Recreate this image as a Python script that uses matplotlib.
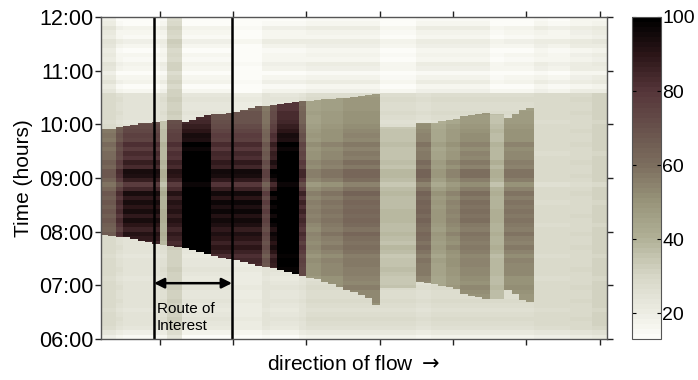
import numpy as np
import matplotlib
matplotlib.use('Agg')
from matplotlib import pyplot as plt
from matplotlib.colors import LinearSegmentedColormap

plt.rcParams['font.family'] = ['Liberation Sans', 'DejaVu Sans']

# ---- data ----
# 69 road segments (columns), time 06:00-12:00
hour_ticks = [6, 7, 8, 9, 10, 11, 12]
hour_labels = ['06:00', '07:00', '08:00', '09:00', '10:00', '11:00', '12:00']
seg_ticks = [8, 18, 28, 38, 48, 58, 68]

# groups of segments: (count, peak level in jam, free-flow level, level after 10:35)
groups = [
    (2, 66, 28, 22),
    (1, 80, 26, 17),
    (5, 90, 24, 16),
    (1, 40, 26, 18),
    (2, 88, 32, 30),
    (4, 112, 23, 16),
    (3, 92, 23, 16),
    (4, 92, 21, 13),
    (1, 74, 24, 17),
    (1, 96, 23, 17),
    (3, 112, 23, 17),
    (1, 82, 25, 17),
    (2, 54, 27, 18),
    (3, 57, 27, 18),
    (5, 61, 27, 18),
    (5, 37, 27, 15),
    (2, 62, 26, 18),
    (2, 48, 27, 18),
    (2, 53, 27, 18),
    (4, 58, 27, 18),
    (2, 40, 27, 15),
    (4, 57, 27, 16),
    (2, 28, 28, 18),
    (3, 28, 28, 17),
    (3, 28, 29, 19),
    (2, 30, 31, 20),
]

# jam onset (bottom edge) and clearance (top edge) per segment, hours
onset = [7.94, 7.92, 7.90, 7.90, 7.87, 7.84, 7.80, 7.77, 7.75, 7.73,
         7.71, 7.70, 7.66, 7.62, 7.58, 7.55, 7.52, 7.49, 7.46, 7.43,
         7.40, 7.37, 7.34, 7.31, 7.28, 7.25, 7.21, 7.17, 7.14, 7.11,
         7.07, 7.04, 6.97, 6.91, 6.86, 6.82, 6.76, 6.63, 6.95, 6.95,
         6.95, 6.95, 6.95, 7.07, 7.05, 7.02, 6.99, 6.96, 6.93, 6.84,
         6.80, 6.78, 6.75, 6.75, 6.75, 6.91, 6.83, 6.74, 6.68, np.nan,
         np.nan, np.nan, np.nan, np.nan, np.nan, np.nan, np.nan, np.nan, np.nan]
clear = [9.92, 9.92, 9.95, 9.97, 9.99, 10.01, 10.03, 10.05, 10.06, 10.08,
         10.09, 10.05, 10.09, 10.13, 10.17, 10.18, 10.20, 10.22, 10.24, 10.27,
         10.30, 10.33, 10.35, 10.37, 10.39, 10.40, 10.41, 10.43, 10.44, 10.45,
         10.46, 10.47, 10.48, 10.49, 10.51, 10.53, 10.55, 10.57, 9.95, 9.95,
         9.95, 9.95, 9.95, 10.02, 10.03, 10.04, 10.06, 10.08, 10.10, 10.15,
         10.17, 10.19, 10.22, 10.20, 10.20, 10.12, 10.20, 10.26, 10.30, np.nan,
         np.nan, np.nan, np.nan, np.nan, np.nan, np.nan, np.nan, np.nan, np.nan]

# jam intensity through the morning, 5-minute steps from 06:00
pulse = [0.70, 0.70, 0.70, 0.70, 0.70, 0.70, 0.70, 0.70, 0.72, 0.75,
         0.78, 0.80, 0.77, 0.82, 0.85, 0.83, 0.88, 0.90, 0.86, 0.92,
         0.95, 0.91, 0.97, 1.00, 0.94, 1.02, 1.05, 0.97, 1.06, 1.00,
         1.08, 0.97, 1.04, 0.92, 0.85, 0.95, 1.02, 1.05, 0.90, 0.94,
         0.86, 0.90, 0.82, 0.86, 0.78, 0.80, 0.74, 0.72, 0.70, 0.68,
         0.66, 0.65, 0.64, 0.63, 0.62, 0.60, 0.60, 0.60, 0.60, 0.60,
         0.60, 0.60, 0.60, 0.60, 0.60, 0.60, 0.60, 0.60, 0.60, 0.60,
         0.60, 0.60]
# faint background banding, 5-minute steps from 06:00
haze = [-9, -5, -1, 0, 1, 0, -1, 0, 1, 0,
        0, 1, 0, -1, 0, 1, 0, 0, -1, 0,
        1, 0, 0, 1, 0, -1, 0, 1, 0, 0,
        -1, 0, 1, 0, -2, 0, 1, 0, 0, 1,
        0, -1, 0, 1, 0, 0, 1, 0, -1, 0,
        1, 0, 0, 1, 0, 1, -2, 2, 0, -3,
        1, 2, -1, 0, -2, 1, 3, -1, 0, 2,
        -2, -3]
shift_time = 10.58   # background steps lighter after this time

route = [7.23, 17.86]

# colours along the scale
cmap_pts = [(13, '#fcfcf8'), (20, '#ececE2'), (30, '#d6d6c6'), (40, '#b0b096'),
            (50, '#98947a'), (60, '#7c6e5e'), (70, '#68524c'), (80, '#56363a'),
            (90, '#2c1618'), (100, '#000000')]
vmin, vmax = 13, 100


def build_matrix():
    counts = [g[0] for g in groups]
    peak = np.repeat([g[1] for g in groups], counts)
    free = np.repeat([g[2] for g in groups], counts)
    late = np.repeat([g[3] for g in groups], counts)
    t_edges = np.linspace(6, 12, 361)
    t_mid = (t_edges[:-1] + t_edges[1:]) / 2
    k = np.minimum((t_mid - 6) * 12, 71).astype(int)
    p = np.array(pulse)[k][:, None]
    h = np.array(haze)[k][:, None]
    T = t_mid[:, None]
    on = np.array(onset)[None, :]
    off = np.array(clear)[None, :]
    z = np.where(T < shift_time, free[None, :], late[None, :]).astype(float)
    jam = (T >= on) & (T < off)
    z = np.where(jam, free[None, :] + (peak - free)[None, :] * p, z)
    z = z + h
    return t_edges, np.clip(z, vmin, vmax)


def main():
    vals = [(v - vmin) / (vmax - vmin) for v, _ in cmap_pts]
    cmap = LinearSegmentedColormap.from_list('jam', list(zip(vals, [c for _, c in cmap_pts])), N=64)

    t_edges, z = build_matrix()
    x_edges = np.arange(len(onset) + 1)

    fig = plt.figure(figsize=(6.98, 3.80), dpi=100)
    ax = fig.add_axes([0.1447, 0.1079, 0.7249, 0.8474])
    cax = fig.add_axes([0.9054, 0.1079, 0.0415, 0.8474])

    mesh = ax.pcolormesh(x_edges, t_edges, z, cmap=cmap, vmin=vmin, vmax=vmax,
                         shading='flat', rasterized=True)
    ax.set_xlim(0, len(onset))
    ax.set_ylim(6, 12)
    ax.set_yticks(hour_ticks)
    ax.set_yticklabels(hour_labels)
    ax.set_xticks(seg_ticks)
    ax.set_xticklabels([])
    ax.tick_params(direction='out', length=4, width=1, top=True, right=True,
                   labelsize=15.5, pad=1.5, colors='#222222', labelcolor='black')
    for s in ax.spines.values():
        s.set_color('#555555')
        s.set_linewidth(1)
    ax.set_ylabel('Time (hours)', fontsize=15, labelpad=4)
    ax.set_xlabel('direction of flow $\\rightarrow$', fontsize=15, labelpad=6)

    for xr in route:
        ax.axvline(xr, color='black', lw=1.8)
    ax.annotate('', xy=(route[0], 7.04), xytext=(route[1], 7.04),
                arrowprops=dict(arrowstyle='<|-|>', color='black', lw=1.8,
                                mutation_scale=15, shrinkA=0, shrinkB=0))
    ax.text(route[0] + 0.4, 6.4, 'Route of\nInterest', fontsize=11,
            ha='left', va='center', linespacing=1.35)

    cb = fig.colorbar(mesh, cax=cax)
    cb.set_ticks([20, 40, 60, 80, 100])
    cb.ax.tick_params(direction='in', length=3, labelsize=14, pad=1, left=True, right=True)
    cb.outline.set_edgecolor('#555555')

    fig.savefig('out.png', dpi=100)


if __name__ == '__main__':
    main()
